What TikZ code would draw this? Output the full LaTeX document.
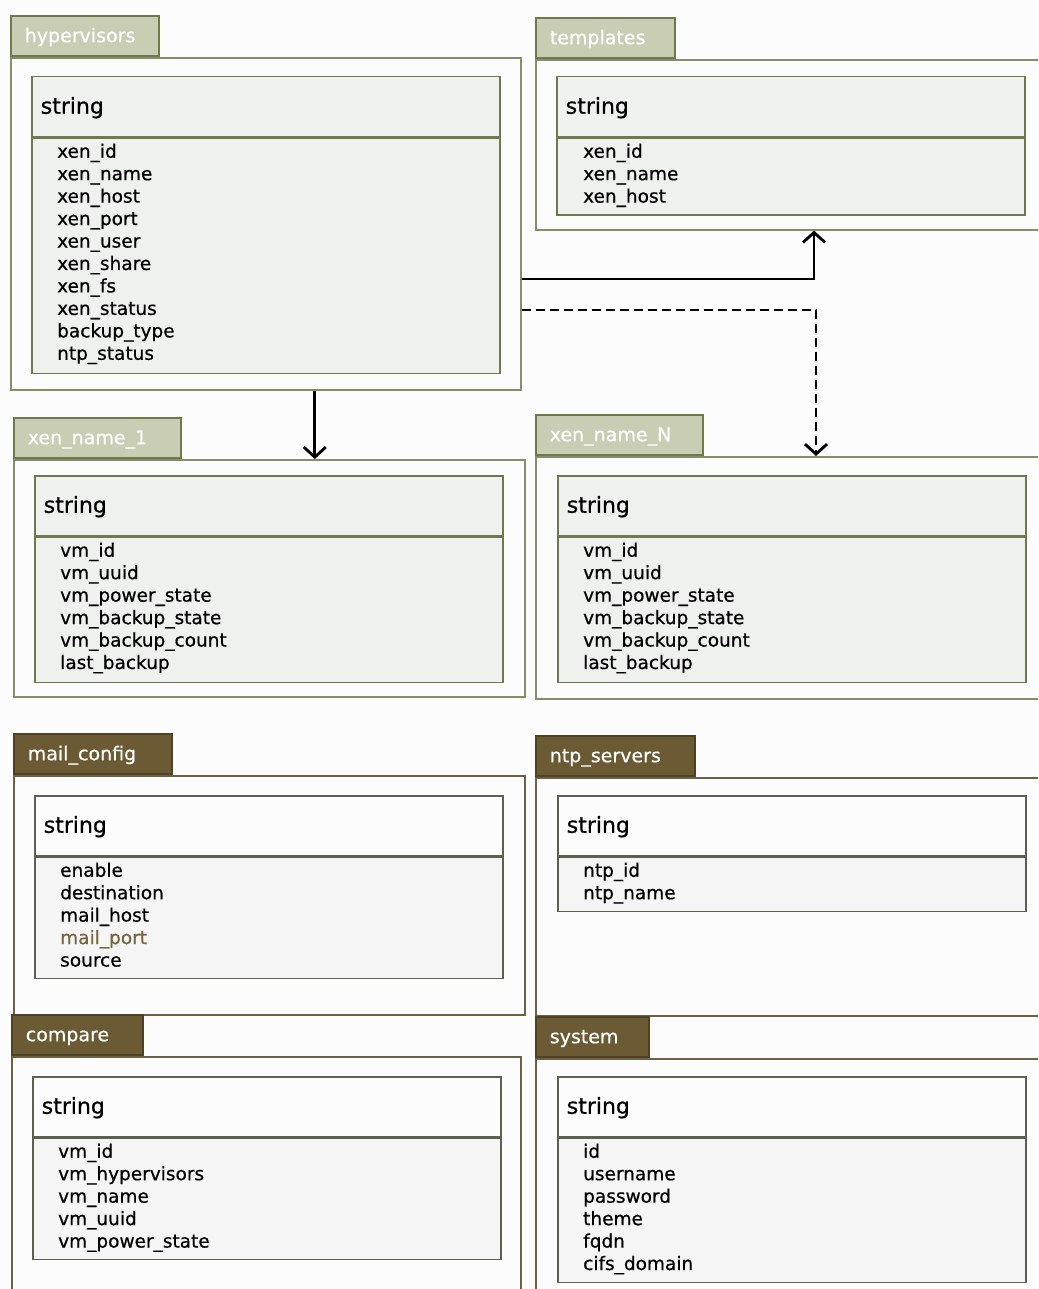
\documentclass[tikz,border=0pt]{standalone}
\usepackage{fontspec}
\setmainfont{DejaVu Sans}[FakeBold=0.6]
\usetikzlibrary{positioning,calc,arrows.meta}
\definecolor{TabSage}{HTML}{C9CDB4}
\definecolor{SageLine}{HTML}{6E7A4E}
\definecolor{SageFrame}{HTML}{858E68}
\definecolor{BoxGray}{HTML}{EFF1EF}
\definecolor{TabBrown}{HTML}{6B5A33}
\definecolor{BrownLine}{HTML}{4E4225}
\definecolor{BrownFrame}{HTML}{6E6045}
\definecolor{BoxLine}{HTML}{5C604E}
\definecolor{BodyGray}{HTML}{F5F5F5}
\definecolor{PageWhite}{HTML}{FCFCFC}
\definecolor{PortBrown}{HTML}{76673F}

\tikzset{
  pkgframe/.style={draw, line width=1.6pt, anchor=north west, inner sep=0pt, fill=PageWhite},
  pkgtab/.style={draw, line width=1.6pt, anchor=south west, minimum height=40pt, inner xsep=14pt, inner ysep=0pt, text height=15pt, text depth=3pt, align=left, text=white, font=\fontsize{19}{21}\selectfont},
  greenframe/.style={pkgframe, draw=SageFrame},
  greentab/.style={pkgtab, draw=SageLine, fill=TabSage},
  brownframe/.style={pkgframe, draw=BrownFrame},
  browntab/.style={pkgtab, draw=BrownLine, fill=TabBrown},
  classhead/.style={draw, line width=1.5pt, anchor=north west, minimum height=60pt, text width=450pt, inner xsep=9pt, text height=17pt, text depth=3pt, align=left, font=\fontsize{22}{24}\selectfont},
  classbody/.style={draw, line width=1.5pt, anchor=north west, minimum width=468pt, inner sep=0pt},
  greenhead/.style={classhead, draw=SageLine, fill=BoxGray},
  greenbody/.style={classbody, draw=SageLine, fill=BoxGray},
  brownhead/.style={classhead, draw=BoxLine, fill=PageWhite},
  brownbody/.style={classbody, draw=BoxLine, fill=BodyGray},
  field/.style={anchor=mid west, inner sep=0pt, font=\fontsize{18.5}{20}\selectfont},
  link/.style={line width=2.8pt, -{Straight Barb[length=10pt,width=22pt]}},
}

\begin{document}
\begin{tikzpicture}[x=1pt,y=-1pt,line join=miter]
  \clip (0,0) rectangle (1038,1289);
  \fill[PageWhite] (0,0) rectangle (1038,1289);

  % hypervisors
  \node[greenframe, minimum width=510pt, minimum height=332pt] (hypFrame) at (10,57) {};
  \node[greentab, text width=120pt] (hypTab) at (hypFrame.north west) {hypervisors};
  \node[greenhead] (hypHead) at (31,76) {string};
  \node[greenbody, minimum height=235pt] (hypBody) at (hypHead.south west) {};
  \foreach \f [count=\i] in {xen\_id,xen\_name,xen\_host,xen\_port,xen\_user,xen\_share,xen\_fs,xen\_status,backup\_type,ntp\_status}
    \node[field] (hypF\i) at ($(hypBody.north west)+(26,{17.5+(\i-1)*22.45})$) {\f};

  % templates
  \node[greenframe, minimum width=520pt, minimum height=170pt] (tplFrame) at (535,59) {};
  \node[greentab, text width=111pt] (tplTab) at (tplFrame.north west) {templates};
  \node[greenhead] (tplHead) at (556,76) {string};
  \node[greenbody, minimum height=77pt] (tplBody) at (tplHead.south west) {};
  \foreach \f [count=\i] in {xen\_id,xen\_name,xen\_host}
    \node[field] (tplF\i) at ($(tplBody.north west)+(27,{17.5+(\i-1)*22.45})$) {\f};

  % xen_name_1
  \node[greenframe, minimum width=511pt, minimum height=237pt] (x1Frame) at (13,459) {};
  \node[greentab, text width=139pt] (x1Tab) at (x1Frame.north west) {xen\_name\_1};
  \node[greenhead] (x1Head) at (34,475) {string};
  \node[greenbody, minimum height=145pt] (x1Body) at (x1Head.south west) {};
  \foreach \f [count=\i] in {vm\_id,vm\_uuid,vm\_power\_state,vm\_backup\_state,vm\_backup\_count,last\_backup}
    \node[field] (x1F\i) at ($(x1Body.north west)+(26,{17.5+(\i-1)*22.45})$) {\f};

  % xen_name_N
  \node[greenframe, minimum width=520pt, minimum height=242pt] (xnFrame) at (535,456) {};
  \node[greentab, text width=139pt] (xnTab) at (xnFrame.north west) {xen\_name\_N};
  \node[greenhead] (xnHead) at (557,475) {string};
  \node[greenbody, minimum height=145pt] (xnBody) at (xnHead.south west) {};
  \foreach \f [count=\i] in {vm\_id,vm\_uuid,vm\_power\_state,vm\_backup\_state,vm\_backup\_count,last\_backup}
    \node[field] (xnF\i) at ($(xnBody.north west)+(26,{17.5+(\i-1)*22.45})$) {\f};

  % mail_config
  \node[brownframe, minimum width=511pt, minimum height=239pt] (mailFrame) at (13,775) {};
  \node[browntab, text width=130pt] (mailTab) at (mailFrame.north west) {mail\_config};
  \node[brownhead] (mailHead) at (34,795) {string};
  \node[brownbody, minimum height=121pt] (mailBody) at (mailHead.south west) {};
  \foreach \f [count=\i] in {enable,destination,mail\_host,{\color{PortBrown}mail\_port},source}
    \node[field] (mailF\i) at ($(mailBody.north west)+(26,{17.5+(\i-1)*22.45})$) {\f};

  % ntp_servers
  \node[brownframe, minimum width=520pt, minimum height=238pt] (ntpFrame) at (535,777) {};
  \node[browntab, text width=131pt] (ntpTab) at (ntpFrame.north west) {ntp\_servers};
  \node[brownhead] (ntpHead) at (557,795) {string};
  \node[brownbody, minimum height=54pt] (ntpBody) at (ntpHead.south west) {};
  \foreach \f [count=\i] in {ntp\_id,ntp\_name}
    \node[field] (ntpF\i) at ($(ntpBody.north west)+(26,{17.5+(\i-1)*22.45})$) {\f};

  % compare
  \node[brownframe, minimum width=509pt, minimum height=260pt] (cmpFrame) at (11,1056) {};
  \node[browntab, text width=103pt] (cmpTab) at (cmpFrame.north west) {compare};
  \node[brownhead] (cmpHead) at (32,1076) {string};
  \node[brownbody, minimum height=121pt] (cmpBody) at (cmpHead.south west) {};
  \foreach \f [count=\i] in {vm\_id,vm\_hypervisors,vm\_name,vm\_uuid,vm\_power\_state}
    \node[field] (cmpF\i) at ($(cmpBody.north west)+(26,{17.5+(\i-1)*22.45})$) {\f};

  % system
  \node[brownframe, minimum width=520pt, minimum height=260pt] (sysFrame) at (535,1058) {};
  \node[browntab, text width=85pt] (sysTab) at (sysFrame.north west) {system};
  \node[brownhead] (sysHead) at (557,1076) {string};
  \node[brownbody, minimum height=144pt] (sysBody) at (sysHead.south west) {};
  \foreach \f [count=\i] in {id,username,password,theme,fqdn,cifs\_domain}
    \node[field] (sysF\i) at ($(sysBody.north west)+(26,{17.5+(\i-1)*22.45})$) {\f};

  % links
  \draw[link] ([yshift=-222pt]hypFrame.north east) -| ([xshift=279pt]tplFrame.south west);
  \draw[link, dash pattern=on 9pt off 5pt] ([yshift=-253pt]hypFrame.north east) -| ([xshift=281pt]xnFrame.north west);
  \draw[link] ([xshift=49pt]hypFrame.south) -- ([xshift=49pt]hypFrame.south |- x1Frame.north);
\end{tikzpicture}
\end{document}
